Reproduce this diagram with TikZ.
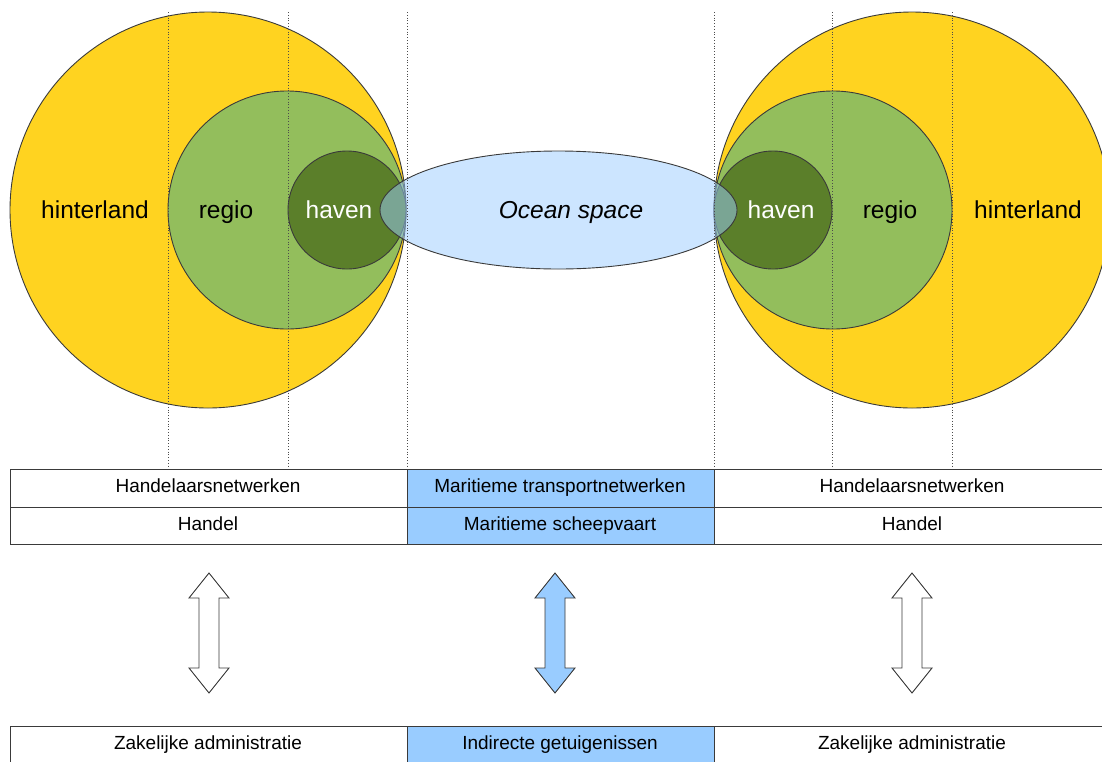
\documentclass[tikz,border=0pt]{standalone}
\usepackage{fontspec}
\setmainfont{Liberation Sans}
\definecolor{hyellow}{HTML}{FFD320}
\definecolor{rgreen}{HTML}{93BE5C}
\definecolor{hgreen}{HTML}{5B7F2A}
\definecolor{oblue}{HTML}{99CCFF}
\definecolor{cellblue}{HTML}{99CCFF}
\definecolor{edge}{HTML}{3A3A3A}
\tikzset{
  circ/.style={draw=edge, line width=0.9pt},
  guide/.style={draw=black!70, dotted, line width=0.8pt},
  biglabel/.style={font=\fontsize{24.5}{28}\selectfont, inner sep=0pt, anchor=base},
  cell/.style={draw=edge, line width=1pt, inner sep=0pt, outer sep=0pt, anchor=north west},
  celltext/.style={font=\fontsize{19}{22}\selectfont, inner sep=0pt, anchor=base},
  pics/dblarrow/.style={code={
    \draw[pic actions] (0,-60) -- (20,-35) -- (10,-35) -- (10,35) -- (20,35) -- (0,60)
      -- (-20,35) -- (-10,35) -- (-10,-35) -- (-20,-35) -- cycle;}},
}
\begin{document}
\begin{tikzpicture}[x=1pt,y=-1pt]
\useasboundingbox (0,0) rectangle (1102,761);
\clip (0,0) rectangle (1102,761);
% left circles
\draw[circ, fill=hyellow] (208,210) circle (198);
\draw[circ, fill=rgreen] (287,210) circle (119);
\draw[circ, fill=hgreen] (347,210) circle (59);
% right circles
\draw[circ, fill=hyellow] (912,210) circle (198);
\draw[circ, fill=rgreen] (833,210) circle (119);
\draw[circ, fill=hgreen] (773,210) circle (59);
% ocean ellipse
\draw[circ, draw=edge, fill=oblue, fill opacity=0.5] (558.5,210) ellipse [x radius=178.5, y radius=59];
% guides
\foreach \x in {168,288,407,714,832,952} \draw[guide] (\x,12) -- (\x,467);
% labels
\node[biglabel] (hl) at (95,218) {hinterland};
\node[biglabel] (rl) at (226,218) {regio};
\node[biglabel, text=white] (hvl) at (339,218) {haven};
\node[biglabel, font=\fontsize{24.5}{28}\selectfont\itshape] (oc) at (571,218) {Ocean space};
\node[biglabel, text=white] (hvr) at (781,218) {haven};
\node[biglabel] (rr) at (890,218) {regio};
\node[biglabel] (hr) at (1028,218) {hinterland};
% table top
\node[cell, minimum width=397pt, minimum height=38pt] (t11) at (10,469) {};
\node[cell, minimum width=397pt, minimum height=37pt] (t21) at (10,507) {};
\node[cell, fill=cellblue, minimum width=307pt, minimum height=38pt] (t12) at (407,469) {};
\node[cell, fill=cellblue, minimum width=307pt, minimum height=37pt] (t22) at (407,507) {};
\node[cell, minimum width=396pt, minimum height=38pt] (t13) at (714,469) {};
\node[cell, minimum width=396pt, minimum height=37pt] (t23) at (714,507) {};
\node[celltext] (t11l) at (208,492) {Handelaarsnetwerken};
\node[celltext] (t21l) at (208,530) {Handel};
\node[celltext] (t12l) at (560,492) {Maritieme transportnetwerken};
\node[celltext] (t22l) at (560,530) {Maritieme scheepvaart};
\node[celltext] (t13l) at (912,492) {Handelaarsnetwerken};
\node[celltext] (t23l) at (912,530) {Handel};
% arrows
\coordinate (a1) at (209,633);
\coordinate (a2) at (555,633);
\coordinate (a3) at (912,633);
\pic[draw=edge, line width=0.9pt, fill=white] at (a1) {dblarrow};
\pic[draw=edge, line width=0.9pt, fill=cellblue] at (a2) {dblarrow};
\pic[draw=edge, line width=0.9pt, fill=white] at (a3) {dblarrow};
% table bottom
\node[cell, minimum width=397pt, minimum height=45pt] (b1) at (10,726) {};
\node[cell, fill=cellblue, minimum width=307pt, minimum height=45pt] (b2) at (407,726) {};
\node[cell, minimum width=396pt, minimum height=45pt] (b3) at (714,726) {};
\node[celltext] (b1l) at (208,749) {Zakelijke administratie};
\node[celltext] (b2l) at (560,749) {Indirecte getuigenissen};
\node[celltext] (b3l) at (912,749) {Zakelijke administratie};
\end{tikzpicture}
\end{document}
